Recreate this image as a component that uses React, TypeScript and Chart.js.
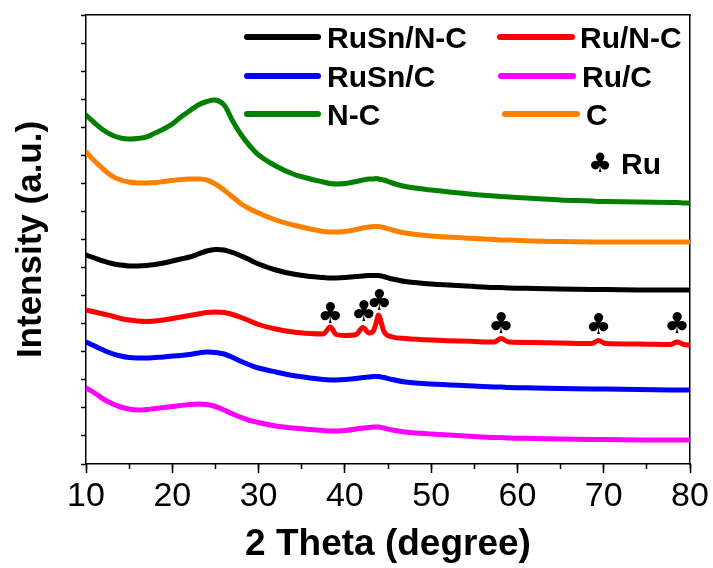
import React, { useEffect, useRef } from "react";
import { Chart, registerables } from "chart.js";

Chart.register(...registerables);

// 2 Theta sampling positions (degree)
const THETA = [10, 11, 12, 13, 14, 15, 16, 17, 18, 19, 20, 21, 22, 23, 24, 25, 26, 27, 28, 29, 30,
  32, 34, 36, 37.5, 38.3, 39, 40, 41.3, 42.1, 42.8, 43.3, 43.6, 43.9, 44.2, 44.5, 45.5, 47, 50, 55,
  57.3, 58.1, 59, 62, 65, 68.6, 69.4, 70.2, 74, 77.7, 78.5, 79.3, 80];

// Intensities (a.u., stacked offsets as in the figure)
const RUSN_NC = [209, 206, 203, 200.5, 199, 198, 198, 198.5, 199.5, 201, 203, 205, 207, 210, 213, 214.5, 214, 211.5, 208, 204, 200,
  194, 190, 187.5, 186.5, 186, 186, 186.5, 187.5, 188, 188.5, 188.5, 188.5, 188.5, 188, 187.5, 185, 182.5, 180, 177.5,
  176.5, 176.5, 176, 175.5, 175, 174.5, 174.5, 174.5, 174, 174, 174, 174, 174];
const RU_NC = [154, 152, 150, 148, 145.5, 144, 143, 142.5, 143, 144, 145.5, 147, 148.5, 150, 151.5, 152, 151.5, 149.5, 146.5, 143, 139.5,
  135, 132, 130.5, 130, 137, 129.5, 128.5, 129.5, 136.5, 131, 133, 140, 149, 142, 133, 127, 125.5, 124, 122.5,
  122, 125.5, 122, 121.5, 121, 120.5, 123.5, 120.5, 120, 119.5, 122, 119.5, 119];
const RUSN_C = [122, 118, 114, 110.5, 108, 106.5, 106, 106, 106.5, 107, 108, 108.5, 109.5, 111, 112, 111.5, 110, 106.5, 102.5, 99, 96,
  92, 88.5, 86, 84.5, 84, 84, 84.5, 85.5, 86.5, 87, 87.5, 87.5, 87.5, 87, 86.5, 84.5, 82, 80, 78,
  77, 77, 76.5, 76, 75.5, 75, 75, 75, 74.5, 74, 74, 74, 74];
const RU_C = [76, 71, 65, 60.5, 57, 55, 54, 54.5, 55.5, 56.5, 57.5, 58.5, 59.5, 60, 59.5, 57.5, 54, 50, 46.5, 43.5, 41.5,
  38, 36, 34.5, 33.5, 33, 33, 33.5, 35, 36, 36.5, 37, 37, 37, 36.5, 36, 34, 32, 30, 27.5,
  26.5, 26.5, 26, 25.5, 25, 24.5, 24.5, 24.5, 24, 24, 24, 24, 24];
const N_C = [349, 341, 334, 329, 326, 325, 325.5, 327, 331, 335, 340, 347, 353, 359, 362.5, 364, 359, 343, 329, 318, 309,
  298, 290, 285, 282, 280.5, 280, 280.5, 282.5, 284, 285, 285, 285.5, 285, 284.5, 284, 281, 277.5, 274, 269.5,
  268, 267.5, 267, 265.5, 264, 263, 262.5, 262.5, 262, 261.5, 261.5, 261, 261];
const C_ONLY = [312, 303, 295, 288, 284, 282, 281, 281, 281.5, 282.5, 283.5, 284.5, 285, 285, 284, 280, 274, 267, 260, 255, 251,
  244, 239, 235, 232.5, 232, 232, 232.5, 234.5, 236, 237, 237.5, 237.5, 237.5, 237, 236.5, 234, 231, 228, 225.5,
  224.5, 224, 224, 223, 222.5, 222, 222, 222, 222, 222, 222, 222, 222];

const SERIES_LABELS = ["RuSn/N-C", "Ru/N-C", "RuSn/C", "Ru/C", "N-C", "C"];
const SERIES_COLORS = ["#000000", "#ff0000", "#0000ff", "#ff00ff", "#008000", "#ff8000"];
const SERIES_VALUES = [RUSN_NC, RU_NC, RUSN_C, RU_C, N_C, C_ONLY];
const SERIES_SHARP = [false, true, false, false, false, false];

// Ru reflections marked with clubs
const RU_MARK_THETA = [38.3, 42.2, 44.0, 58.1, 69.4, 78.5];
const RU_MARK_Y = [149, 151, 162, 139, 138, 139];
const RU_MARK_LABEL = "Ru";

const X_MIN = 10;
const X_MAX = 80;
const Y_MIN = 0;
const Y_MAX = 449;

const FONT = "'Liberation Sans', Arial, sans-serif";
const CLUB = "\u2663";

// legend layout (pixels)
const LEGEND_POS = [
  { lx0: 247, lx1: 318, tx: 327, y: 37 },
  { lx0: 500, lx1: 572, tx: 580, y: 37 },
  { lx0: 247, lx1: 318, tx: 327, y: 76 },
  { lx0: 501, lx1: 573, tx: 582, y: 76 },
  { lx0: 247, lx1: 318, tx: 327, y: 114 },
  { lx0: 505, lx1: 577, tx: 586, y: 114 },
];

const overlayPlugin = {
  id: "overlay",
  afterDraw(chart: any) {
    const { ctx, scales } = chart;
    const xs = scales.x;
    const ys = scales.y;
    ctx.save();
    // club markers
    ctx.fillStyle = "#000";
    ctx.font = "29px 'DejaVu Sans'";
    ctx.textAlign = "center";
    ctx.textBaseline = "middle";
    RU_MARK_THETA.forEach((t, i) => {
      ctx.fillText(CLUB, xs.getPixelForValue(t), ys.getPixelForValue(RU_MARK_Y[i]));
    });
    // legend
    ctx.lineCap = "round";
    ctx.lineWidth = 6;
    ctx.font = `bold 30px ${FONT}`;
    ctx.textAlign = "left";
    ctx.textBaseline = "alphabetic";
    SERIES_LABELS.forEach((lab, i) => {
      const p = LEGEND_POS[i];
      ctx.strokeStyle = SERIES_COLORS[i];
      ctx.beginPath();
      ctx.moveTo(p.lx0, p.y);
      ctx.lineTo(p.lx1, p.y);
      ctx.stroke();
      ctx.fillStyle = "#000";
      ctx.fillText(lab, p.tx, p.y + 11);
    });
    // Ru marker key
    ctx.font = "27px 'DejaVu Sans'";
    ctx.textAlign = "center";
    ctx.textBaseline = "middle";
    ctx.fillText(CLUB, 600, 165);
    ctx.font = `bold 30px ${FONT}`;
    ctx.textAlign = "left";
    ctx.textBaseline = "alphabetic";
    ctx.fillText(RU_MARK_LABEL, 621, 174);
    ctx.restore();
  },
};

export default function App() {
  const ref = useRef<HTMLCanvasElement | null>(null);

  useEffect(() => {
    if (!ref.current) return;
    Chart.defaults.font.family = FONT;
    Chart.defaults.color = "#000";

    const datasets = SERIES_LABELS.map((lab, i) => ({
      label: lab,
      data: THETA.map((t, j) => ({ x: t, y: SERIES_VALUES[i][j] })),
      borderColor: SERIES_COLORS[i],
      backgroundColor: SERIES_COLORS[i],
      borderWidth: 5,
      pointRadius: 0,
      tension: SERIES_SHARP[i] ? 0.4 : 0.35,
      cubicInterpolationMode: (SERIES_SHARP[i] ? "monotone" : "default") as any,
      borderJoinStyle: "round" as const,
      borderCapStyle: "round" as const,
      fill: false,
    }));

    const chart = new Chart(ref.current, {
      type: "line",
      data: { datasets },
      options: {
        animation: false,
        responsive: false,
        devicePixelRatio: 1,
        layout: { padding: { left: 0, top: 15, right: 23, bottom: 0 } },
        plugins: { legend: { display: false }, tooltip: { enabled: false } },
        scales: {
          x: {
            type: "linear",
            position: "bottom",
            min: X_MIN,
            max: X_MAX,
            weight: 1,
            afterFit: (s: any) => { s.height = 104; },
            ticks: {
              stepSize: 10,
              maxTicksLimit: 100,
              autoSkip: false,
              maxRotation: 0,
              minRotation: 0,
              padding: 3,
              color: "#000",
              font: { size: 34, family: FONT },
            },
            grid: { drawOnChartArea: false, tickLength: 9, color: "#000", tickWidth: 1.5 },
            border: { color: "#000", width: 1.5 },
            title: {
              display: true,
              text: "2 Theta (degree)",
              color: "#000",
              font: { size: 37, weight: "bold", family: FONT },
              padding: { top: 0, bottom: 1 },
            },
          },
          xMinor: {
            type: "linear",
            position: "bottom",
            min: X_MIN,
            max: X_MAX,
            weight: 0,
            afterFit: (s: any) => { s.height = 0; },
            ticks: { stepSize: 5, maxTicksLimit: 100, display: false },
            grid: { drawOnChartArea: false, tickLength: 5, color: "#000", tickWidth: 1.5 },
            border: { display: false },
          },
          xTop: {
            type: "linear",
            position: "top",
            min: X_MIN,
            max: X_MAX,
            afterFit: (s: any) => { s.height = 0; },
            ticks: { display: false },
            grid: { display: false },
            border: { color: "#000", width: 1.5 },
          },
          y: {
            type: "linear",
            position: "left",
            min: Y_MIN,
            max: Y_MAX,
            afterFit: (s: any) => { s.width = 86; },
            ticks: { display: false, stepSize: 28.0625, maxTicksLimit: 100 },
            grid: { drawOnChartArea: false, tickLength: 5, color: "#000", tickWidth: 1.5 },
            border: { color: "#000", width: 1.5 },
            title: {
              display: true,
              text: "Intensity (a.u.)",
              color: "#000",
              font: { size: 35, weight: "bold", family: FONT },
              padding: { top: 10, bottom: 0 },
            },
          },
          yRight: {
            type: "linear",
            position: "right",
            min: Y_MIN,
            max: Y_MAX,
            afterFit: (s: any) => { s.width = 0; },
            ticks: { display: false },
            grid: { display: false },
            border: { color: "#000", width: 1.5 },
          },
        },
      } as any,
      plugins: [overlayPlugin],
    });
    return () => chart.destroy();
  }, []);

  return (
    <div style={{ position: "absolute", left: 0, top: 0, width: 713, height: 568, background: "#fff" }}>
      <canvas ref={ref} width={713} height={568} style={{ display: "block" }} />
    </div>
  );
}
